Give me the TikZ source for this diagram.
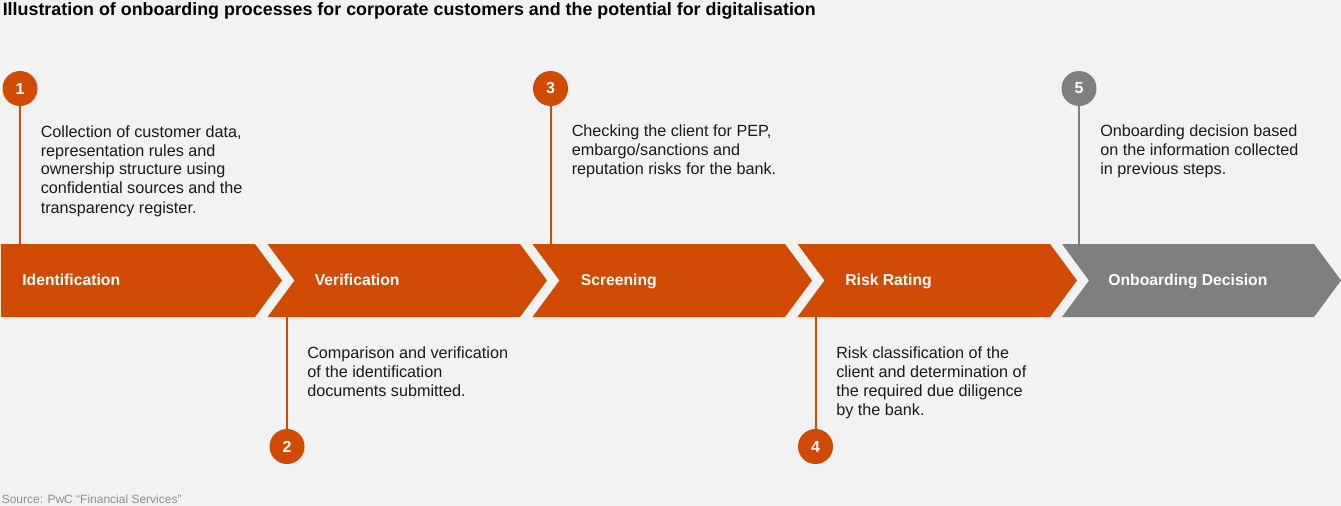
\documentclass[tikz,border=0pt]{standalone}
\usepackage{fontspec}
\setmainfont{Liberation Sans}
\definecolor{pwcorange}{HTML}{D04A02}
\definecolor{pwcgris}{HTML}{7F7F7F}
\definecolor{fond}{HTML}{F2F2F2}
\definecolor{encre}{HTML}{1A1A1A}
\definecolor{grisclair}{HTML}{8C8C8C}
\begin{document}
\begin{tikzpicture}[x=0.75pt, y=-0.75pt]
\tikzset{etape/.style={fill=pwcorange},
  etapegrise/.style={fill=pwcgris},
  nometape/.style={anchor=base west, inner sep=0, text=white, font=\fontsize{11.8}{14}\selectfont\bfseries},
  pastille/.style={circle, fill=pwcorange, text=white, minimum size=26.25pt, inner sep=0, font=\fontsize{12}{14}\selectfont\bfseries},
  pastillegrise/.style={pastille, fill=pwcgris},
  trait/.style={draw=pwcorange, line width=1.5pt},
  traitgris/.style={draw=pwcgris, line width=1.5pt},
  texte/.style={anchor=base west, inner sep=0, align=left, text=encre, font=\fontsize{12.15}{14.25}\selectfont}}
\useasboundingbox (0,0) rectangle (1341,506);
\fill[fond] (0,0) rectangle (1341,506);
\node[anchor=base west, inner sep=0, text=black, font=\fontsize{13.4}{16}\selectfont\bfseries] (titre) at (2.5,16) {Illustration of onboarding processes for corporate customers and the potential for digitalisation};
% chevrons
\fill[etape] (1,244) -- (255,244) -- (282,280.5) -- (255,317) -- (1,317) -- cycle;
\fill[etape] (267.5,244) -- (520,244) -- (547,280.5) -- (520,317) -- (267.5,317) -- (294.5,280.5) -- cycle;
\fill[etape] (532.5,244) -- (785,244) -- (812,280.5) -- (785,317) -- (532.5,317) -- (559.5,280.5) -- cycle;
\fill[etape] (797.5,244) -- (1050,244) -- (1077,280.5) -- (1050,317) -- (797.5,317) -- (824.5,280.5) -- cycle;
\fill[etapegrise] (1062,244) -- (1314,244) -- (1341,280.5) -- (1314,317) -- (1062,317) -- (1089,280.5) -- cycle;
\node[nometape] (E1) at (22,285.5) {Identification};
\node[nometape] (E2) at (314.5,285.5) {Verification};
\node[nometape] (E3) at (580.5,285.5) {Screening};
\node[nometape] (E4) at (845,285.5) {Risk Rating};
\node[nometape] (E5) at (1108,285.5) {Onboarding Decision};
% pastilles
\node[pastille] (N1) at (20,88.5) {1};
\node[pastille] (N2) at (287,446.5) {2};
\node[pastille] (N3) at (550.5,88.5) {3};
\node[pastille] (N4) at (815.5,446.5) {4};
\node[pastillegrise] (N5) at (1079,88.5) {5};
\coordinate (B1) at (20,244);
\coordinate (B2) at (287,317);
\coordinate (B3) at (550.5,244);
\coordinate (B4) at (815.5,317);
\coordinate (B5) at (1079,244);
\draw[trait] (N1) -- (B1);
\draw[trait] (N2) -- (B2);
\draw[trait] (N3) -- (B3);
\draw[trait] (N4) -- (B4);
\draw[traitgris] (N5) -- (B5);
% textes (base = derniere ligne)
\node[texte] (T1) at (40.5,213) {Collection of customer data,\\representation rules and\\ownership structure using\\confidential sources and the\\transparency register.};
\node[texte] (T2) at (307,396) {Comparison and verification\\of the identification\\documents submitted.};
\node[texte] (T3) at (571.5,175) {Checking the client for PEP,\\embargo/sanctions and\\reputation risks for the bank.};
\node[texte] (T4) at (836,415) {Risk classification of the\\client and determination of\\the required due diligence\\by the bank.};
\node[texte] (T5) at (1100,175) {Onboarding decision based\\on the information collected\\in previous steps.};
\node[anchor=base west, inner sep=0, text=grisclair, font=\fontsize{9}{11}\selectfont] (source) at (1.5,503) {Source: PwC “Financial Services”};
\end{tikzpicture}
\end{document}
